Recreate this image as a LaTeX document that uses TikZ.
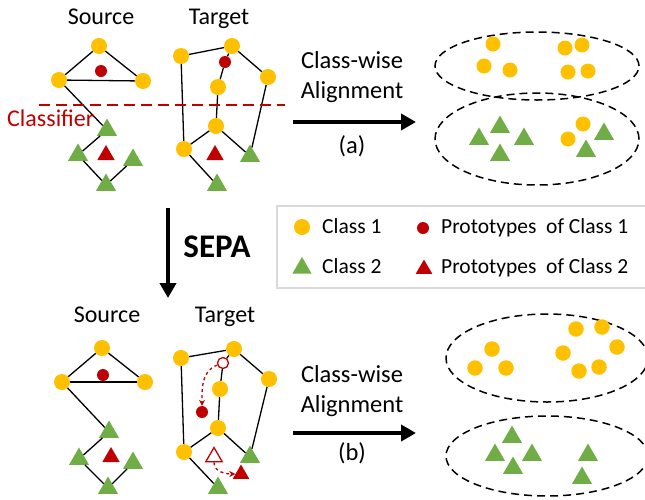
\documentclass[tikz,border=0pt]{standalone}
\usepackage{fontspec}
\setmainfont{Carlito}
\usepackage{tikz}
\usetikzlibrary{arrows.meta,shapes.geometric,positioning}
\definecolor{clsorange}{RGB}{255,192,0}
\definecolor{clsgreen}{RGB}{112,173,71}
\definecolor{protored}{RGB}{192,0,0}
\definecolor{legendgray}{RGB}{217,217,217}
\tikzstyle{cone} = [circle, fill=clsorange, inner sep=0, minimum size=16]
\tikzstyle{ctwo} = [regular polygon, regular polygon sides=3, fill=clsgreen, inner sep=0, minimum size=23]
\tikzstyle{pone} = [circle, fill=protored, inner sep=0, minimum size=12]
\tikzstyle{ptwo} = [regular polygon, regular polygon sides=3, fill=protored, inner sep=0, minimum size=20]
\tikzstyle{oldpone} = [circle, draw=protored, fill=white, line width=1.3, inner sep=0, minimum size=11]
\tikzstyle{oldptwo} = [regular polygon, regular polygon sides=3, draw=protored, fill=white, line width=1.3, inner sep=0, minimum size=19]
\tikzstyle{edge} = [line width=1.3]
\tikzstyle{bigarrow} = [line width=4, -{Triangle[length=15,width=16]}]
\tikzstyle{protoshift} = [protored, dashed, line width=1.3, -{Stealth[length=6,width=6]}]
\tikzstyle{cluster} = [ellipse, draw, line width=1.5, dash pattern=on 8 off 5, inner sep=0]
\tikzstyle{label} = [anchor=base, inner sep=0, font=\fontsize{24}{26}\selectfont]
\tikzstyle{legendtext} = [anchor=base west, inner sep=0, font=\fontsize{21.5}{24}\selectfont]

\begin{document}
\begin{tikzpicture}[x=1pt, y=-1pt]
    \useasboundingbox (0,0) rectangle (645,499);

    % Top: source graph
    \node[label] (srcA) at (101,24) {Source};
    \node[cone] (s1) at (99,46) {};
    \node[cone] (s2) at (59,80) {};
    \node[cone] (s3) at (143,81) {};
    \node[pone] (sp1) at (101,71) {};
    \node[ctwo] (s4) at (107,130) {};
    \node[ctwo] (s5) at (78,155) {};
    \node[ptwo] (sp2) at (106,155) {};
    \node[ctwo] (s6) at (133,160) {};
    \node[ctwo] (s7) at (106,185) {};
    \draw[edge] (s1) -- (s2);
    \draw[edge] (s1) -- (s3);
    \draw[edge] (s2) -- (s3);
    \draw[edge] (s2) -- (s4);
    \draw[edge] (s4) -- (s5);
    \draw[edge] (s5) -- (s7);
    \draw[edge] (s6) -- (s7);

    % Top: target graph
    \node[label] (tgtA) at (219,24) {Target};
    \node[cone] (t1) at (181,56) {};
    \node[cone] (t2) at (232,46) {};
    \node[pone] (tp1) at (225,62) {};
    \node[cone] (t3) at (218,87) {};
    \node[cone] (t4) at (268,77) {};
    \node[cone] (t5) at (216,126) {};
    \node[cone] (t6) at (184,149) {};
    \node[ptwo] (tp2) at (215,155) {};
    \node[ctwo] (t7) at (250,156) {};
    \node[ctwo] (t8) at (217,185) {};
    \draw[edge] (t1) -- (t2);
    \draw[edge] (t2) -- (t4);
    \draw[edge] (t2) -- (tp1) -- (t3);
    \draw[edge] (t3) -- (t5);
    \draw[edge] (t1) -- (t6);
    \draw[edge] (t4) -- (t7);
    \draw[edge] (t5) -- (t6);
    \draw[edge] (t5) -- (t7);
    \draw[edge] (t6) -- (t8);

    % Classifier
    \coordinate (clfL) at (39,105);
    \coordinate (clfR) at (285,105);
    \draw[protored, line width=2.5, dash pattern=on 11 off 6] (clfL) -- (clfR);
    \node[label, anchor=base west, text=protored] (clf) at (7,126) {Classifier};

    % Alignment (a)
    \node[label, font=\fontsize{24.5}{26}\selectfont] (cwA) at (352,68) {Class-wise};
    \node[label, font=\fontsize{24.5}{26}\selectfont] (alA) at (352,98) {Alignment};
    \coordinate (arA0) at (293,122);
    \coordinate (arA1) at (416,122);
    \draw[bigarrow] (arA0) -- (arA1);
    \node[label, font=\fontsize{24.5}{26}\selectfont] (capA) at (352,153) {(a)};

    % Clusters (a)
    \node[cluster, minimum width=204, minimum height=68] (ellA1) at (537,66) {};
    \node[cluster, minimum width=204, minimum height=92] (ellA2) at (537,139) {};
    \foreach \p [count=\i] in {(493,44),(484,66),(510,70),(565,48),(582,45),(568,72),(588,71),(583,124),(568,139)}
        \node[cone, minimum size=15] (ka\i) at \p {};
    \foreach \p [count=\i] in {(479,139),(500,127),(524,139),(500,155),(604,134),(586,151)}
        \node[ctwo] (kb\i) at \p {};

    % SEPA
    \coordinate (sepa0) at (168,208);
    \coordinate (sepa1) at (168,298);
    \draw[bigarrow] (sepa0) -- (sepa1);
    \node[label, font=\fontsize{33}{35}\selectfont\bfseries] (sepa) at (217,257) {SEPA};

    % Legend
    \node[draw=legendgray, line width=1.5, minimum width=373, minimum height=82, inner sep=0] (legend) at (463.5,247) {};
    \node[cone] (lg1) at (302,227) {};
    \node[legendtext] (lt1) at (322,233) {Class 1};
    \node[pone] (lg2) at (423,228) {};
    \node[legendtext] (lt2) at (441,233) {Prototypes\ \ of Class 1};
    \node[ctwo, minimum size=22] (lg3) at (302,268) {};
    \node[legendtext] (lt3) at (322,273) {Class 2};
    \node[ptwo, minimum size=19] (lg4) at (424,269) {};
    \node[legendtext] (lt4) at (441,273) {Prototypes\ \ of Class 2};

    % Bottom: source graph
    \node[label] (srcB) at (107,322) {Source};
    \node[cone] (u1) at (102,348) {};
    \node[cone] (u2) at (62,382) {};
    \node[cone] (u3) at (145,382) {};
    \node[pone] (up1) at (103,375) {};
    \node[ctwo] (u4) at (109,432) {};
    \node[ctwo] (u5) at (79,459) {};
    \node[ptwo] (up2) at (111,457) {};
    \node[ctwo] (u6) at (133,463) {};
    \node[ctwo] (u7) at (108,488) {};
    \draw[edge] (u1) -- (u2);
    \draw[edge] (u1) -- (u3);
    \draw[edge] (u2) -- (u3);
    \draw[edge] (u2) -- (u4);
    \draw[edge] (u4) -- (u5);
    \draw[edge] (u5) -- (u7);
    \draw[edge] (u6) -- (u7);

    % Bottom: target graph
    \node[label] (tgtB) at (225,322) {Target};
    \node[cone] (v1) at (181,358) {};
    \node[cone] (v2) at (234,349) {};
    \node[oldpone] (vo1) at (223,363) {};
    \node[cone] (v3) at (220,389) {};
    \node[cone] (v4) at (269,379) {};
    \node[pone] (vp1) at (202,412) {};
    \node[cone] (v5) at (218,428) {};
    \node[cone] (v6) at (184,452) {};
    \node[oldptwo] (vo2) at (214,457) {};
    \node[ptwo, minimum size=19] (vp2) at (241,474) {};
    \node[ctwo] (v7) at (250,457) {};
    \node[ctwo] (v8) at (218,488) {};
    \draw[edge] (v1) -- (v2);
    \draw[edge] (v2) -- (v4);
    \draw[edge] (v2) -- (vo1) -- (v3);
    \draw[edge] (v3) -- (v5);
    \draw[edge] (v1) -- (v6);
    \draw[edge] (v4) -- (v7);
    \draw[edge] (v5) -- (v6);
    \draw[edge] (v5) -- (v7);
    \draw[edge] (v6) -- (v8);
    \draw[protoshift] (vo1) to[out=200, in=90] (vp1);
    \draw[protoshift] (vo2) to[out=270, in=180] (vp2);

    % Alignment (b)
    \node[label, font=\fontsize{24.5}{26}\selectfont] (cwB) at (352,382) {Class-wise};
    \node[label, font=\fontsize{24.5}{26}\selectfont] (alB) at (352,412) {Alignment};
    \coordinate (arB0) at (293,433);
    \coordinate (arB1) at (416,433);
    \draw[bigarrow] (arB0) -- (arB1);
    \node[label, font=\fontsize{24.5}{26}\selectfont] (capB) at (352,460) {(b)};

    % Clusters (b)
    \node[cluster, minimum width=202, minimum height=88] (ellB1) at (547,358) {};
    \node[cluster, minimum width=202, minimum height=80] (ellB2) at (547,456) {};
    \foreach \p [count=\i] in {(492,349),(475,368),(506,368),(576,329),(602,327),(617,347),(563,353),(579,371),(599,367)}
        \node[cone, minimum size=15.5] (kc\i) at \p {};
    \foreach \p [count=\i] in {(512,437),(495,455),(532,455),(513,468),(588,455),(582,478)}
        \node[ctwo] (kd\i) at \p {};
\end{tikzpicture}
\end{document}
